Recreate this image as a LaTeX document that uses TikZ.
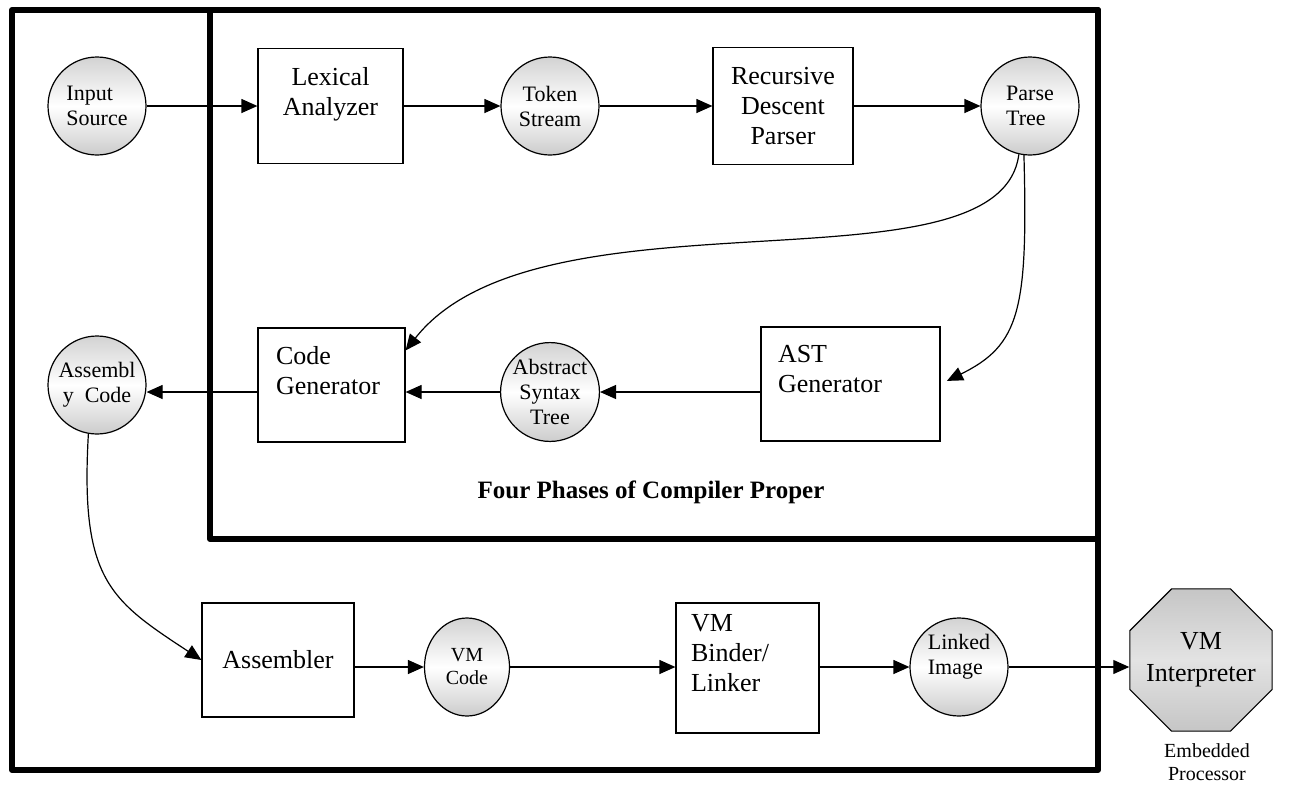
\documentclass[tikz,border=0pt]{standalone}
\usepackage{fontspec}
\setmainfont{Liberation Serif}
\usetikzlibrary{arrows.meta,shapes.geometric}

\begin{document}
\begin{tikzpicture}[x=1pt,y=-1pt,
    frame/.style={line width=6pt,line join=round},
    blk/.style={draw,line width=1.2pt,rectangle,inner sep=0pt,fill=white,
      font=\fontsize{26}{30}\selectfont},
    dat/.style={draw,line width=1.2pt,circle,minimum size=98pt,inner sep=0pt,
      top color=gray!35,bottom color=gray!40,middle color=white,
      font=\fontsize{22}{25}\selectfont},
    arr/.style={line width=1.2pt,-{Triangle[length=16pt,width=14pt]}}]
  \useasboundingbox (0,0) rectangle (1294,788);

  % the two frames
  \draw[frame] (12,10) rectangle (1098,770);
  \draw[frame] (210,10) rectangle (1098,539);

  % front end
  \node[dat,align=left] (src) at (97,106) {Input\\Source};
  \node[blk,align=center,minimum width=145pt,minimum height=115pt] (lex) at (330.5,106) {Lexical\\Analyzer\\\mbox{}};
  \node[dat,align=center] (tok) at (550,106) {Token\\Stream};
  \node[blk,align=center,minimum width=140pt,minimum height=117pt] (rdp) at (783,106) {Recursive\\Descent\\Parser};
  \node[dat,align=left] (pt) at (1030,106) {Parse\\Tree};

  % back end of compiler proper
  \node[blk,align=left,inner xsep=18pt,text width=111pt,minimum height=114pt] (cg) at (331.5,385) {Code\\Generator\\\mbox{}};
  \node[dat,align=center] (ast) at (550,392) {Abstract\\Syntax\\Tree};
  \node[blk,align=left,inner xsep=17pt,text width=145pt,minimum height=114pt] (astg) at (850.5,384) {AST\\Generator\\\mbox{}};
  \node[dat,align=center] (asm) at (97,385) {Assembl\\y\ \ Code};
  \node[font=\bfseries\fontsize{25}{30}\selectfont] (fp) at (651,492) {Four Phases of Compiler Proper};

  % assembler and linker
  \node[blk,minimum width=152pt,minimum height=114pt] (as) at (278,660) {Assembler};
  \node[dat,ellipse,minimum width=85pt,minimum height=98pt,align=center,
    font=\fontsize{20}{23}\selectfont] (vmc) at (467,667) {VM\\Code};
  \node[blk,align=left,inner xsep=15pt,text width=113pt,minimum height=130pt] (bind) at (747.5,668) {VM\\Binder/\\Linker\\\mbox{}};
  \node[dat,align=left] (lnk) at (959,667) {Linked\\Image\\\mbox{}};
  \node[draw,line width=1.2pt,regular polygon,regular polygon sides=8,
    minimum size=154pt,inner sep=-9pt,align=center,
    top color=gray!45,bottom color=gray!45,middle color=gray!22,
    font=\fontsize{26}{32}\selectfont] (vmi) at (1201,660) {VM\\Interpreter};
  \node[align=center,font=\fontsize{20}{23}\selectfont] (emb) at (1207,762) {Embedded\\Processor};

  % flow
  \draw[arr] (src) -- (lex);
  \draw[arr] (lex) -- (tok);
  \draw[arr] (tok) -- (rdp);
  \draw[arr] (rdp) -- (pt);
  \draw[arr] (pt.-103) .. controls (1000,300) and (540,180) .. (cg.25);
  \draw[arr,shorten >=7pt] (pt.-97) .. controls (1028,310) and (1020,345) .. (astg.east);
  \draw[arr] (astg.west |- ast) -- (ast);
  \draw[arr] (ast) -- (ast -| cg.east);
  \draw[arr] (cg.west |- ast) -- (asm.east |- ast);
  \draw[arr] (asm.-100) .. controls (80,580) and (110,600) .. (as.west);
  \draw[arr] (as.east |- vmc) -- (vmc);
  \draw[arr] (vmc) -- (vmc -| bind.west);
  \draw[arr] (bind.east |- lnk) -- (lnk);
  \draw[arr] (lnk) -- (lnk -| vmi.west);
\end{tikzpicture}
\end{document}
